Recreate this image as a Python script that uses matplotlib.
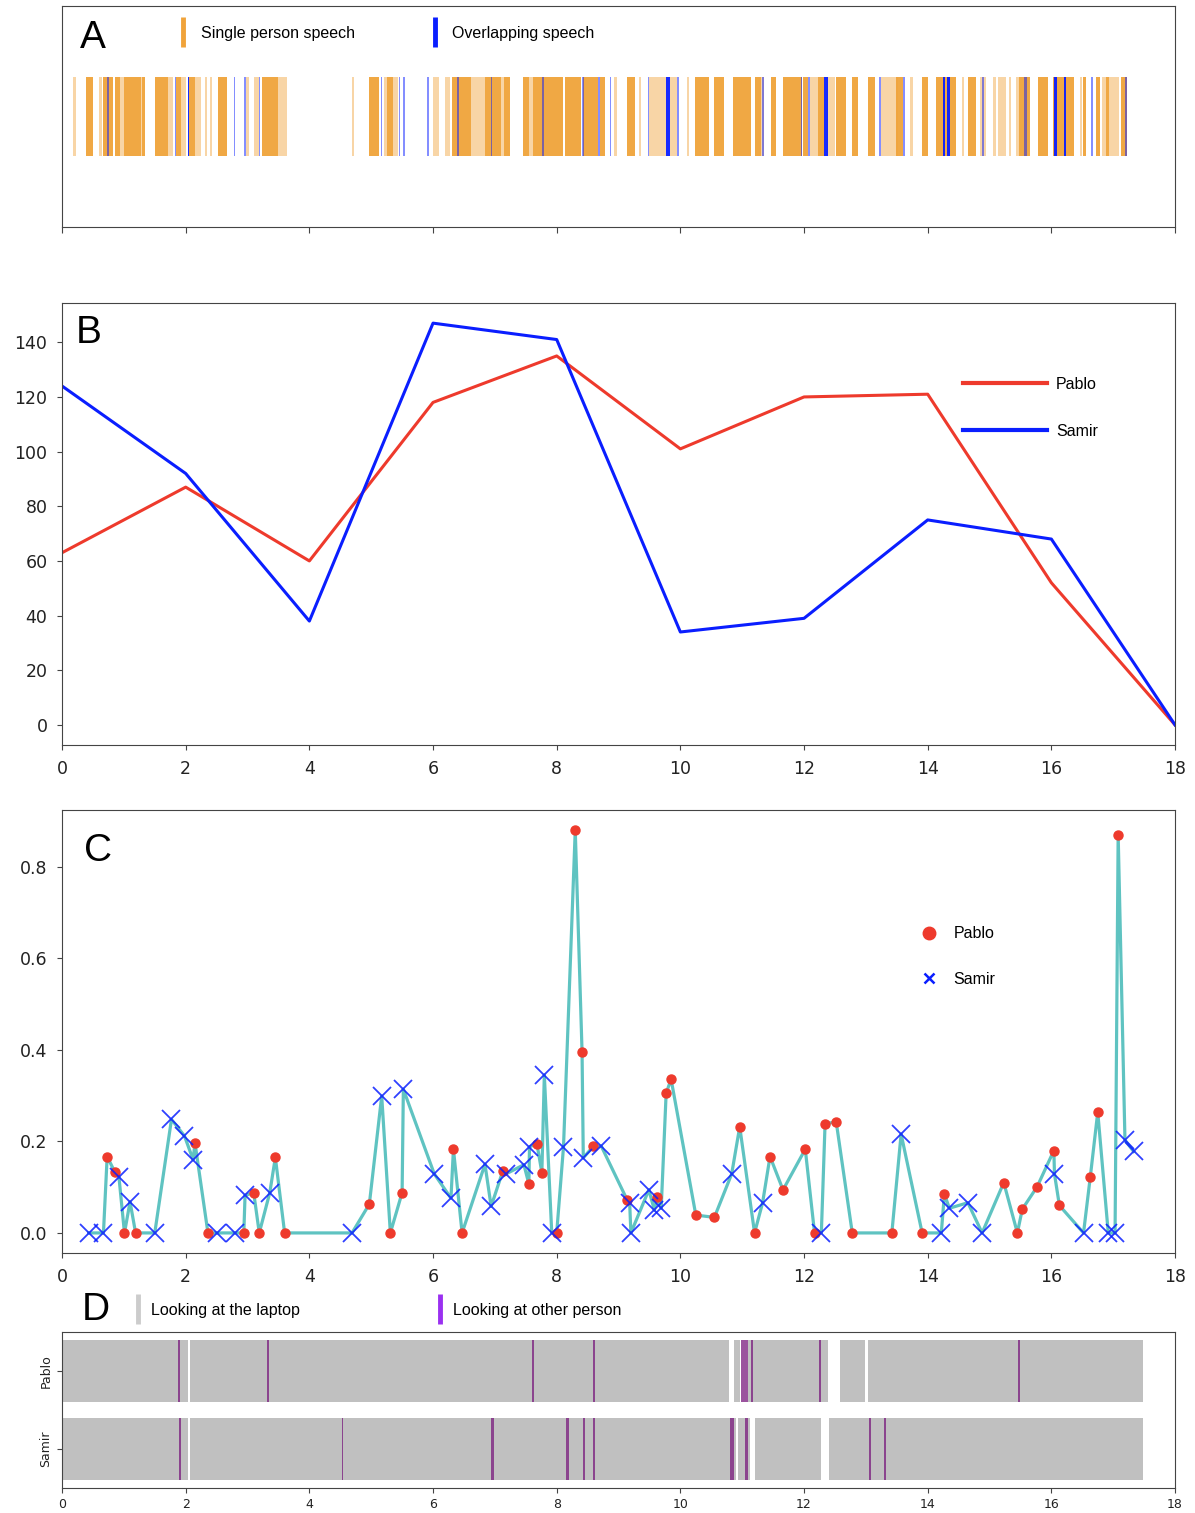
import matplotlib
matplotlib.use("Agg")
from matplotlib import pyplot as plt
from matplotlib.lines import Line2D
import numpy as np

# ---- panel A : speech segments (start, end) in minutes
single_solid = [(0.39, 0.50), (0.66, 0.82), (0.86, 0.94), (1.00, 1.27), (1.29, 1.35),
                (1.50, 1.71), (1.85, 1.93), (2.06, 2.15), (2.52, 2.66), (3.23, 3.49),
                (4.97, 5.13), (5.25, 5.36), (6.30, 6.61), (6.84, 7.10), (7.14, 7.24),
                (7.45, 7.56), (7.62, 8.11), (8.14, 8.40), (8.43, 8.66), (8.70, 8.78),
                (9.14, 9.26), (10.24, 10.46), (10.54, 10.71), (10.85, 11.15), (11.20, 11.31),
                (11.46, 11.54), (11.66, 11.96), (11.98, 12.06), (12.23, 12.33), (12.52, 12.68),
                (12.77, 12.88), (13.03, 13.14), (13.49, 13.60), (13.91, 14.01), (14.14, 14.46),
                (14.65, 14.78), (15.48, 15.65), (15.78, 15.94), (16.02, 16.37), (16.51, 16.56),
                (16.72, 16.78), (16.89, 16.94), (17.13, 17.23)]
single_light = [(0.18, 0.22), (0.59, 0.64), (0.94, 1.00), (1.27, 1.29), (1.71, 1.80),
                (1.93, 2.00), (2.15, 2.24), (2.32, 2.34), (2.40, 2.42), (2.98, 3.03),
                (3.11, 3.18), (3.49, 3.64), (4.69, 4.72), (5.20, 5.25), (5.36, 5.44),
                (6.00, 6.10), (6.19, 6.27), (6.61, 6.84), (7.10, 7.14), (7.56, 7.62),
                (8.92, 8.97), (9.33, 9.37), (9.50, 9.77), (9.84, 9.95), (10.10, 10.14),
                (11.31, 11.36), (12.09, 12.22), (12.37, 12.50), (13.25, 13.52), (13.72, 13.76),
                (14.56, 14.59), (14.85, 14.95), (15.05, 15.11), (15.13, 15.27), (15.32, 15.35),
                (15.43, 15.47), (16.46, 16.49), (16.82, 16.89), (16.94, 17.10)]
overlap_strong = [(2.03, 0.03), (9.77, 0.07), (12.33, 0.05), (14.24, 0.04), (14.32, 0.04),
                  (16.05, 0.04), (16.20, 0.04)]
overlap_weak = [(0.73, 0.03), (1.82, 0.025), (2.78, 0.02), (2.95, 0.02), (3.18, 0.02),
                (5.16, 0.02), (5.45, 0.02), (5.51, 0.03), (5.91, 0.02), (6.39, 0.03),
                (6.94, 0.02), (7.76, 0.03), (8.41, 0.03), (8.67, 0.03), (8.86, 0.02),
                (9.48, 0.02), (9.95, 0.03), (11.32, 0.03), (11.95, 0.02), (12.07, 0.03),
                (13.22, 0.03), (13.60, 0.03), (14.88, 0.03), (15.56, 0.04), (16.64, 0.03),
                (17.19, 0.03)]

# ---- panel B : words per 2-minute window
t_win = [0, 2, 4, 6, 8, 10, 12, 14, 16, 18]
pablo_words = [63, 87, 60, 118, 135, 101, 120, 121, 52, 0]
samir_words = [124, 92, 38, 147, 141, 34, 39, 75, 68, 0]

# ---- panel C : per-utterance value
pablo_t = [0.73, 0.85, 1.01, 1.19, 2.15, 2.36, 2.94, 3.10, 3.19, 3.45, 3.60, 4.97, 5.31, 5.50,
           6.33, 6.47, 7.13, 7.55, 7.68, 7.76, 8.00, 8.30, 8.41, 8.59, 9.14, 9.63, 9.77, 9.85,
           10.25, 10.55, 10.96, 11.20, 11.45, 11.66, 12.02, 12.17, 12.34, 12.52, 12.78, 13.42,
           13.91, 14.27, 15.23, 15.45, 15.53, 15.77, 16.04, 16.13, 16.63, 16.75, 17.08]
pablo_v = [0.167, 0.134, 0.0, 0.0, 0.197, 0.0, 0.0, 0.088, 0.0, 0.165, 0.0, 0.063, 0.0, 0.088,
           0.183, 0.0, 0.136, 0.107, 0.195, 0.132, 0.0, 0.88, 0.396, 0.189, 0.072, 0.078, 0.305, 0.336,
           0.039, 0.034, 0.232, 0.0, 0.167, 0.094, 0.183, 0.0, 0.238, 0.243, 0.0, 0.0,
           0.0, 0.085, 0.11, 0.0, 0.052, 0.101, 0.180, 0.06, 0.123, 0.264, 0.87]
samir_t = [0.43, 0.67, 0.92, 1.10, 1.50, 1.77, 1.98, 2.12, 2.50, 2.79, 2.96, 3.36, 4.69, 5.17,
           5.52, 6.02, 6.29, 6.84, 6.94, 7.18, 7.47, 7.56, 7.80, 7.92, 8.11, 8.43, 8.72, 9.18,
           9.20, 9.49, 9.58, 9.69, 10.83, 11.33, 12.28, 13.57, 14.22, 14.35, 14.65, 14.88,
           16.05, 16.52, 16.92, 17.03, 17.19, 17.33]
samir_v = [0.0, 0.0, 0.123, 0.068, 0.0, 0.248, 0.212, 0.16, 0.0, 0.0, 0.082, 0.088, 0.0, 0.299,
           0.314, 0.129, 0.076, 0.150, 0.058, 0.129, 0.149, 0.188, 0.345, 0.0, 0.188, 0.164, 0.19, 0.066,
           0.0, 0.094, 0.05, 0.054, 0.129, 0.066, 0.0, 0.216, 0.0, 0.054, 0.066, 0.0,
           0.129, 0.0, 0.0, 0.0, 0.203, 0.178]

# ---- panel D : gaze segments
pablo_laptop = [(0, 2.04), (2.07, 10.79), (10.87, 10.97), (11.10, 12.38), (12.58, 12.99), (13.03, 17.48)]
samir_laptop = [(0, 2.04), (2.07, 10.90), (10.94, 11.12), (11.20, 12.27), (12.40, 17.48)]
pablo_other = [(1.88, 0.03), (3.31, 0.03), (7.60, 0.03), (8.59, 0.03), (10.98, 0.11),
               (11.14, 0.03), (12.24, 0.04), (15.46, 0.03)]
samir_other = [(1.89, 0.04), (4.52, 0.03), (6.94, 0.05), (8.15, 0.05), (8.42, 0.03),
               (8.59, 0.03), (10.81, 0.05), (11.05, 0.04), (13.05, 0.04), (13.30, 0.03)]
speakers = ['Pablo', 'Samir']

ORANGE = '#f0a33a'
BLUE = '#0a1eff'
RED = '#ee3a2c'
SP = '#444444'
LFONT = ['Liberation Sans', 'DejaVu Sans']

plt.rcParams['axes.edgecolor'] = SP
plt.rcParams['xtick.color'] = SP
plt.rcParams['ytick.color'] = SP
plt.rcParams['xtick.labelcolor'] = '#222222'
plt.rcParams['ytick.labelcolor'] = '#222222'

fig = plt.figure(figsize=(11.95, 15.13), dpi=100)
W = 0.9314
axA = fig.add_axes([0.0519, 0.850, W, 0.146])
axB = fig.add_axes([0.0519, 0.5076, W, 0.2921])
axC = fig.add_axes([0.0519, 0.1718, W, 0.2928])
axD = fig.add_axes([0.0519, 0.0165, W, 0.1031])

# ------------------------------------------------------------------ A
yr = (0.32, 0.36)
axA.broken_barh([(s, e - s) for s, e in single_solid], yr, color=ORANGE, alpha=0.95, lw=0)
axA.broken_barh([(s, e - s) for s, e in single_light], yr, color=ORANGE, alpha=0.45, lw=0)
axA.broken_barh(overlap_weak, yr, color=BLUE, alpha=0.5, lw=0)
axA.broken_barh(overlap_strong, yr, color=BLUE, alpha=0.95, lw=0)
axA.set_xlim(0, 18)
axA.set_ylim(0, 1)
axA.set_yticks([])
axA.set_xticks(np.arange(0, 19, 2))
axA.tick_params(axis='x', labelbottom=False, length=4)
axA.text(0.016, 0.855, 'A', transform=axA.transAxes, fontsize=28, va='center', family=LFONT)
hA = [Line2D([], [], color=ORANGE, marker='|', ls='none', markersize=22, mew=3.5),
      Line2D([], [], color=BLUE, marker='|', ls='none', markersize=22, mew=3.5)]
axA.legend(hA, ['Single person speech', 'Overlapping speech'], ncol=2, frameon=False,
           loc='center left', bbox_to_anchor=(0.089, 0.878), prop={'family': LFONT, 'size': 11.5},
           handlelength=1.0, handletextpad=0.6, columnspacing=4.5)

# ------------------------------------------------------------------ B
axB.plot(t_win, pablo_words, color=RED, lw=2.2, label='Pablo')
axB.plot(t_win, samir_words, color=BLUE, lw=2.2, label='Samir')
axB.set_xlim(0, 18)
axB.set_xticks(np.arange(0, 19, 2))
axB.set_yticks(np.arange(0, 141, 20))
axB.tick_params(labelsize=12.5, pad=7)
axB.text(0.012, 0.932, 'B', transform=axB.transAxes, fontsize=28, va='center', family=LFONT)
legB = axB.legend(frameon=False, loc='upper left', bbox_to_anchor=(0.797, 0.866), handlelength=5.2,
                  labelspacing=2.0, handletextpad=0.6, prop={'family': LFONT, 'size': 11.5})
for ln in legB.get_lines():
    ln.set_linewidth(3)

# ------------------------------------------------------------------ C
all_t = np.array(pablo_t + samir_t)
all_v = np.array(pablo_v + samir_v)
order = np.argsort(all_t)
axC.plot(all_t[order], all_v[order], color='#4dbdbb', lw=2.3, alpha=0.9, zorder=1)
axC.plot(pablo_t, pablo_v, 'o', color=RED, ms=6.5, zorder=2)
axC.plot(samir_t, samir_v, 'x', color=BLUE, ms=13, mew=1.3, alpha=0.85, zorder=3)
axC.set_xlim(0, 18)
axC.set_xticks(np.arange(0, 19, 2))
axC.set_yticks([0.0, 0.2, 0.4, 0.6, 0.8])
axC.tick_params(labelsize=12.5, pad=7)
axC.text(0.02, 0.907, 'C', transform=axC.transAxes, fontsize=28, va='center', family=LFONT)
hC = [Line2D([], [], color=RED, marker='o', ls='none', markersize=9),
      Line2D([], [], color=BLUE, marker='x', ls='none', markersize=7, mew=1.8)]
axC.legend(hC, speakers, frameon=False, loc='upper left', bbox_to_anchor=(0.752, 0.77),
           labelspacing=1.9, handletextpad=0.5, prop={'family': LFONT, 'size': 11.5})

# ------------------------------------------------------------------ D
GRAY = '#c0c0c0'
PURPLE = '#7a1a7e'
axD.broken_barh([(s, e - s) for s, e in pablo_laptop], (0.6, 0.8), color=GRAY, lw=0)
axD.broken_barh([(s, e - s) for s, e in samir_laptop], (-0.4, 0.8), color=GRAY, lw=0)
axD.broken_barh(pablo_other, (0.6, 0.8), color=PURPLE, alpha=0.75, lw=0)
axD.broken_barh(samir_other, (-0.4, 0.8), color=PURPLE, alpha=0.75, lw=0)
axD.set_xlim(0, 18)
axD.set_ylim(-0.5, 1.5)
axD.set_xticks(np.arange(0, 19, 2))
axD.set_yticks([1, 0])
axD.set_yticklabels(speakers, rotation=90, va='center')
axD.tick_params(labelsize=9)
fig.text(0.0686, 0.134, 'D', fontsize=28, va='center', family=LFONT)
hD = [Line2D([], [], color='#cccccc', marker='|', ls='none', markersize=22, mew=3.5),
      Line2D([], [], color='#9a30f0', marker='|', ls='none', markersize=22, mew=3.5)]
fig.legend(hD, ['Looking at the laptop', 'Looking at other person'], ncol=2, frameon=False,
           loc='center left', bbox_to_anchor=(0.097, 0.134), prop={'family': LFONT, 'size': 11.5},
           handlelength=1.0, handletextpad=0.3, columnspacing=8.3)

fig.savefig('out.png', dpi=100)
